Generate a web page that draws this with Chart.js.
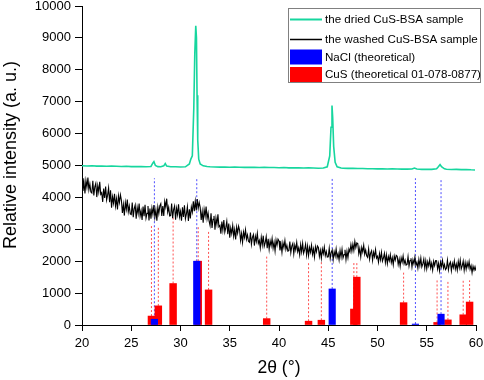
<!DOCTYPE html>
<html><head><meta charset="utf-8">
<script src="https://cdn.jsdelivr.net/npm/chart.js@4/dist/chart.umd.min.js"></script>
<style>html,body{margin:0;padding:0;background:#fff}#wrap{width:484px;height:380px}</style>
</head><body><div id="wrap"><canvas id="c" width="484" height="380"></canvas></div>
<script>
// ---------- DATA ----------
const seriesLabels = ['the dried CuS-BSA sample', 'the washed CuS-BSA sample', 'NaCl (theoretical)', 'CuS (theoretical 01-078-0877)'];
const xTitle = '2θ (°)';
const yTitle = 'Relative intensity (a. u.)';
const xTicks = [20, 25, 30, 35, 40, 45, 50, 55, 60];
const yTicks = [0, 1000, 2000, 3000, 4000, 5000, 6000, 7000, 8000, 9000, 10000];

// dried sample (2θ, intensity)
const driedX = [20,20.5,21,21.5,22,22.5,23,23.5,24,24.5,25,25.5,26,26.5,27,27.2,27.3,27.45,27.7,28,28.3,28.45,28.6,29,29.5,30,30.5,30.9,31.05,31.2,31.35,31.45,31.55,31.62,31.68,31.75,31.85,32,32.3,32.7,33,33.5,34,34.5,35,35.5,36,36.5,37,37.5,38,38.5,39,39.5,40,40.5,41,41.5,42,42.5,43,43.5,44,44.5,44.9,45.15,45.28,45.38,45.45,45.55,45.7,45.9,46.3,46.5,47,47.5,48,48.5,49,49.5,50,50.5,51,51.5,52,52.5,53,53.5,53.75,54,54.5,55,55.5,56,56.2,56.35,56.5,56.8,57,57.5,58,58.5,59,59.5,59.9];
const driedY = [4990,4985,4990,4980,4985,4975,4980,4975,4970,4975,4965,4970,4965,4960,4970,5080,5120,5000,4965,4960,4990,5060,4980,4960,4960,4955,4960,5050,5200,5300,6800,8500,9380,9000,7200,5800,5200,5050,4990,4970,4960,4955,4950,4955,4945,4950,4945,4940,4945,4940,4935,4945,4935,4935,4930,4935,4925,4930,4925,4920,4925,4920,4915,4920,4960,5300,6200,6880,6500,5600,5100,4960,4920,4915,4910,4910,4905,4905,4900,4900,4895,4900,4890,4895,4890,4885,4885,4890,4920,4890,4880,4880,4880,4900,4970,5030,4960,4895,4880,4875,4880,4870,4875,4865,4860];

// washed sample: sampled every 0.1° from 20° to 60°
const washedStart = 20, washedStep = 0.1;
const washedY = [
4600,4200,4470,4120,4530,4320,4620,4240,4420,4170,
4140,4520,4060,4330,4440,4010,4370,4170,4490,4100,
4150,3860,4280,3980,4340,3920,4070,4300,3850,4220,
3680,4020,3820,4110,3730,3960,3620,4050,3840,4080,
3910,3510,3780,3430,3840,3630,3930,3550,3730,3480,
3460,3840,3380,3650,3760,3330,3690,3490,3810,3420,
3580,3290,3710,3410,3770,3350,3500,3730,3280,3650,
3330,3670,3470,3760,3380,3610,3270,3700,3490,3730,
3800,3420,3730,3420,3870,3700,3960,3540,3690,3420,
3430,3810,3350,3620,3730,3300,3660,3460,3780,3390,
3560,3270,3690,3390,3750,3330,3480,3710,3260,3630,
3340,3700,3540,3880,3570,3880,3590,3950,3660,3840,
3690,3290,3560,3210,3620,3410,3710,3330,3510,3260,
3120,3500,3040,3310,3420,2990,3350,3150,3470,3080,
3120,2860,3240,2970,3290,2910,3050,3250,2850,3180,
2735,3040,2860,3120,2780,2990,2680,3070,2880,3100,
2970,2650,2870,2590,2915,2745,2985,2685,2825,2625,
2595,2900,2530,2745,2835,2490,2780,2620,2875,2560,
2650,2415,2750,2510,2800,2465,2585,2770,2410,2705,
2370,2640,2480,2715,2410,2595,2320,2665,2500,2690,
2635,2335,2540,2275,2580,2425,2650,2365,2500,2315,
2330,2615,2270,2475,2555,2230,2505,2355,2590,2300,
2420,2200,2520,2290,2560,2250,2360,2530,2195,2470,
2175,2430,2280,2500,2215,2385,2130,2450,2295,2475,
2430,2150,2340,2095,2380,2235,2445,2175,2305,2130,
2140,2405,2085,2275,2350,2050,2300,2160,2385,2115,
2240,2040,2335,2125,2375,2100,2205,2360,2050,2310,
2110,2380,2290,2520,2315,2535,2340,2620,2430,2570,
2550,2230,2400,2140,2430,2290,2500,2220,2350,2170,
2120,2385,2065,2255,2330,2030,2280,2140,2365,2095,
2155,1965,2240,2045,2280,2005,2100,2250,1960,2200,
1925,2145,2015,2205,1955,2105,1885,2165,2030,2185,
2155,1895,2070,1840,2105,1970,2165,1920,2035,1875,
1895,2145,1845,2020,2090,1815,2045,1915,2125,1870,
1970,1780,2055,1860,2095,1820,1915,2065,1775,2015,
1760,1980,1850,2040,1790,1940,1720,2000,1865,2020,
2015,1755,1930,1700,1970,1830,2025,1780,1895,1735,
1780,2030,1730,1905,1975,1700,1930,1800,2010,1755,
1910,1720,1995,1800,2035,1760,1855,2005,1715,1955,
1750,1950,1810,1990,1750,1860,1640,1840,1720,1830,
1700];

// NaCl reference lines
const naclPos = [27.35, 31.65, 45.4, 53.85, 56.45];
const naclInt = [180, 2000, 1130, 30, 340];
const naclLineTop = [4600, 4600, 4600, 4600, 4600];

// CuS reference lines
const cusPos = [27.05, 27.75, 29.25, 31.8, 32.85, 38.75, 43.0, 44.3, 47.6, 47.9, 52.65, 56.05, 57.15, 58.7, 59.35];
const cusInt = [280, 600, 1300, 2000, 1100, 200, 120, 150, 500, 1500, 700, 80, 160, 320, 720];
const cusLineTop = [3100, 3100, 3400, 3100, 2930, 2170, 2000, 2000, 2000, 2000, 1650, 1400, 1390, 1400, 1400];

// ---------- BUILD ----------
const GREEN = 'rgb(22,214,158)';
const dried = driedX.map((x, i) => ({x, y: driedY[i]}));
const washed = washedY.map((y, i) => ({x: washedStart + i * washedStep, y}));
function stems(pos, from, to) {
  const out = [];
  pos.forEach((p, i) => { out.push({x: p, y: from[i]}, {x: p, y: to[i]}, {x: p, y: null}); });
  return out;
}
const naclBars = naclPos.map((x, i) => ({x, y: naclInt[i]}));
const cusBars = cusPos.map((x, i) => ({x, y: cusInt[i]}));

const FONT = '"Liberation Sans", Arial, sans-serif';

const decorPlugin = {
  id: 'decor',
  afterDraw(chart) {
    const ctx = chart.ctx;
    ctx.save();
    // y axis title
    ctx.font = '18px ' + FONT;
    ctx.fillStyle = '#000';
    ctx.textAlign = 'center';
    ctx.textBaseline = 'middle';
    ctx.translate(11, 155);
    ctx.rotate(-Math.PI / 2);
    ctx.fillText(yTitle, 0, 0);
    ctx.restore();

    // legend
    ctx.save();
    const x0 = 288, y0 = 8, w = 193, h = 75;
    ctx.fillStyle = '#fff';
    ctx.fillRect(x0, y0, w, h);
    ctx.strokeStyle = '#808080';
    ctx.lineWidth = 1;
    ctx.strokeRect(x0 + 0.5, y0 + 0.5, w - 1, h - 1);
    const rows = [19.5, 39.5, 57, 74.5];
    const kinds = [['line', GREEN, 2], ['line', '#000', 1.5], ['box', '#0000ff'], ['box', '#ff0000']];
    ctx.font = '11.6px ' + FONT;
    ctx.textBaseline = 'middle';
    ctx.textAlign = 'left';
    rows.forEach((cy, i) => {
      const k = kinds[i];
      if (k[0] === 'line') {
        ctx.strokeStyle = k[1]; ctx.lineWidth = k[2];
        ctx.beginPath(); ctx.moveTo(290, cy); ctx.lineTo(322, cy); ctx.stroke();
      } else {
        ctx.fillStyle = k[1];
        ctx.fillRect(290, cy - 7.5, 32, 15);
      }
      ctx.fillStyle = '#000';
      ctx.fillText(seriesLabels[i], 325, cy + 0.5);
    });
    ctx.restore();
  }
};

new Chart(document.getElementById('c'), {
  type: 'line',
  data: {
    datasets: [
      {label: seriesLabels[1], data: washed, borderColor: '#000', borderWidth: 1.1, pointRadius: 0, order: 0},
      {label: seriesLabels[0], data: dried, borderColor: GREEN, borderWidth: 1.6, pointRadius: 0, order: 1},
      {type: 'bar', label: seriesLabels[2], data: naclBars, backgroundColor: '#0000ff', barThickness: 6.5, grouped: false, order: 2},
      {type: 'bar', label: seriesLabels[3], data: cusBars, backgroundColor: '#ff0000', barThickness: 6.8, grouped: false, order: 3},
      {label: 'NaCl lines', data: stems(naclPos, naclInt, naclLineTop), borderColor: 'rgba(60,60,255,0.9)', borderWidth: 1, borderDash: [2, 2], pointRadius: 0, spanGaps: false, order: 4},
      {label: 'CuS lines', data: stems(cusPos, cusInt, cusLineTop), borderColor: 'rgba(255,60,60,0.9)', borderWidth: 1, borderDash: [2, 2], pointRadius: 0, spanGaps: false, order: 5}
    ]
  },
  options: {
    responsive: false, animation: false, devicePixelRatio: 1,
    layout: {padding: {top: 0, right: 8, left: 0, bottom: 0}},
    plugins: {legend: {display: false}, tooltip: {enabled: false}},
    elements: {line: {tension: 0}},
    scales: {
      x: {
        type: 'linear', min: 20, max: 60, offset: false,
        afterBuildTicks(s) { s.ticks = xTicks.map(v => ({value: v})); },
        ticks: {color: '#000', font: {family: FONT, size: 13, lineHeight: 1}, padding: 6, maxRotation: 0, autoSkip: false, callback: v => String(v)},
        grid: {drawOnChartArea: false, tickLength: 6, tickColor: '#000', color: '#000', offset: false},
        border: {color: '#000', width: 1},
        title: {display: true, text: xTitle, color: '#000', font: {family: FONT, size: 17.5}, padding: {top: 0, bottom: 1}},
        afterFit(s) { s.height = 55; s.paddingRight = 8; s.paddingLeft = 8; }
      },
      y: {
        type: 'linear', min: 0, max: 10000,
        afterBuildTicks(s) { s.ticks = yTicks.map(v => ({value: v})); },
        ticks: {color: '#000', font: {family: FONT, size: 13, lineHeight: 1}, padding: 4, autoSkip: false, callback: v => String(v)},
        grid: {drawOnChartArea: false, tickLength: 7, tickColor: '#000', color: '#000'},
        border: {color: '#000', width: 1},
        title: {display: false},
        afterFit(s) { s.width = 82; s.paddingTop = 6; }
      }
    }
  },
  plugins: [decorPlugin]
});
</script>
</body></html>
